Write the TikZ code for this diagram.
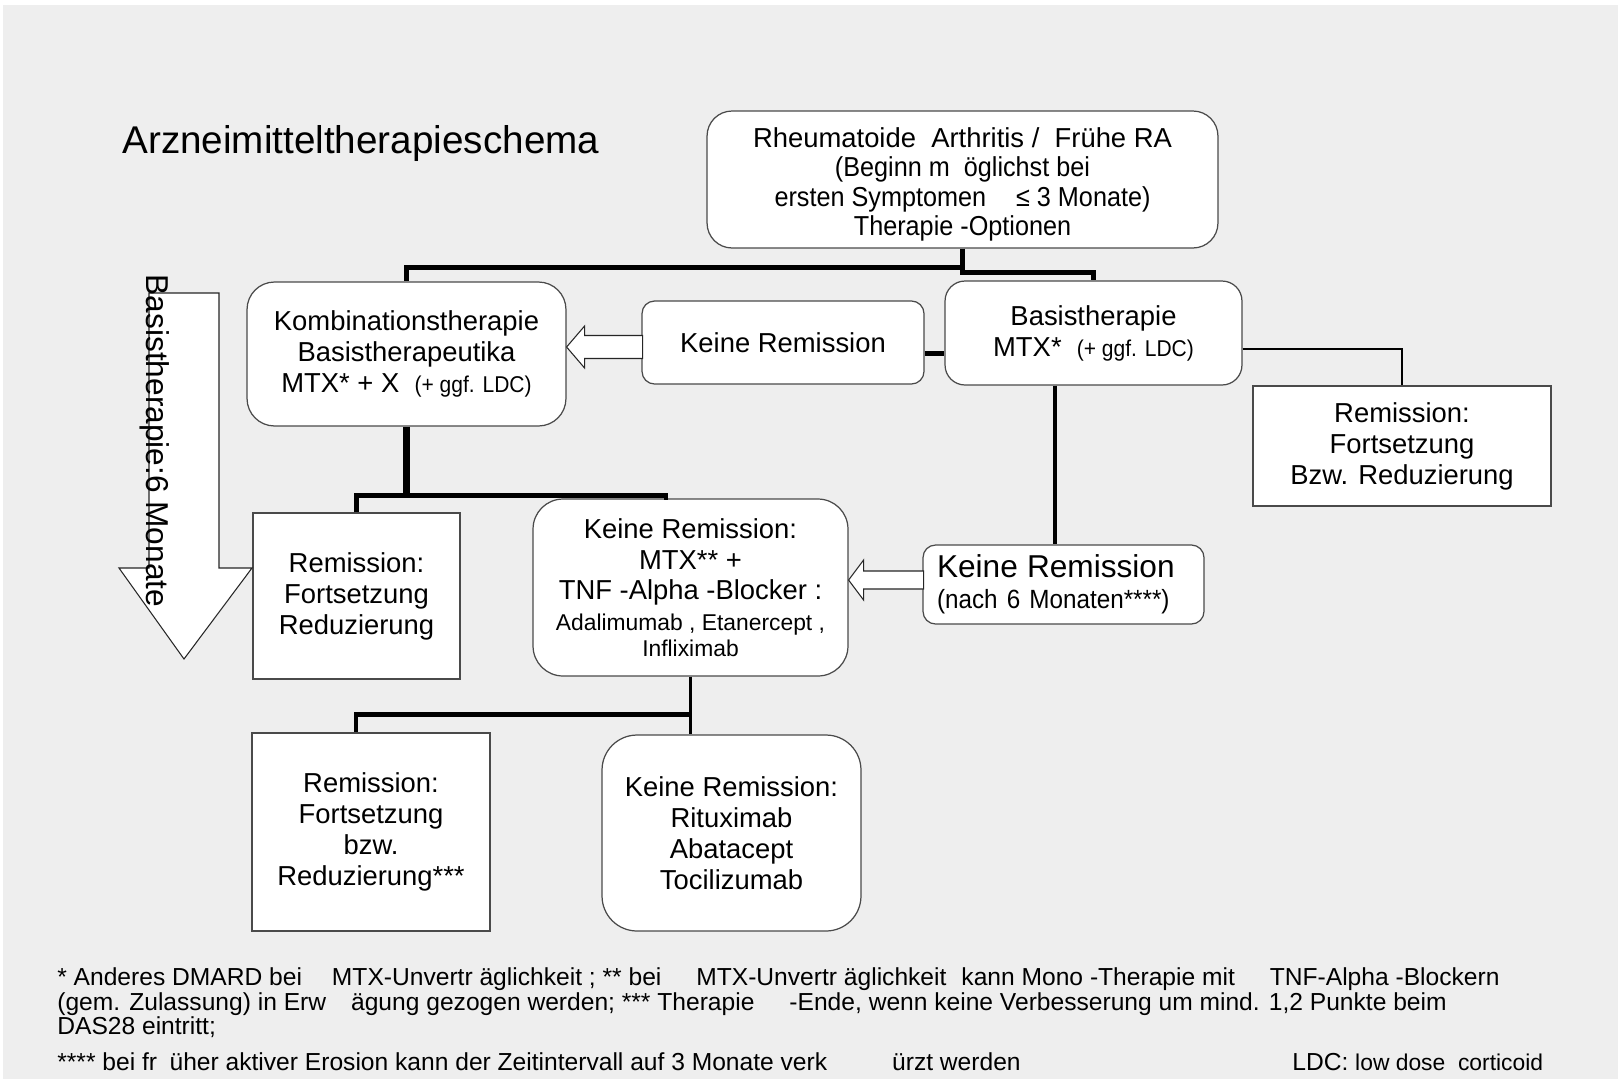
\documentclass[tikz,border=0pt]{standalone}
\usepackage{fontspec}
\setmainfont{Liberation Sans}
\newfontfamily\narrowfont[FakeStretch=0.92]{Liberation Sans}
\usetikzlibrary{calc}
\definecolor{sheetgray}{HTML}{EEEEEE}
\definecolor{boxline}{HTML}{4A4A4A}
\tikzstyle{rbox} = [rectangle, rounded corners=0.5cm, draw=boxline, fill=white, line width=0.7pt, align=center, inner sep=0pt, font=\fontsize{15.6}{17.6}\selectfont]
\tikzstyle{sbox} = [rectangle, draw=boxline, fill=white, line width=0.7pt, align=center, inner sep=0pt, font=\fontsize{15.6}{17.6}\selectfont]
\tikzstyle{link} = [line width=2.8pt]
\tikzstyle{thinlink} = [line width=1.6pt]
\tikzstyle{hollow} = [draw=black!85, fill=white, line width=0.6pt]
\tikzstyle{note} = [anchor=base west, inner sep=0pt, font=\fontsize{14}{15}\selectfont]

\begin{document}
\begin{tikzpicture}[x=0.02cm, y=-0.02cm]
    \useasboundingbox (0,0) rectangle (1618,1079);
    \fill[white] (0,0) rectangle (1618,1079);
    \fill[sheetgray] (3,5) rectangle (1618,1079);

    \node[anchor=west, inner sep=0pt, font=\fontsize{22}{26}\selectfont] (title) at (122,144) {Arzneimitteltherapieschema};

    % boxes
    \node[rbox, minimum width=10.22cm, minimum height=2.74cm, font=\fontsize{15.6}{16.8}\selectfont] (topra) at (962.5,179.5) {\raisebox{0pt}[15pt][0pt]{}\\[-15pt]Rheumatoide\ \ Arthritis /\ \ Frühe RA\\{\narrowfont (Beginn m\ \ öglichst bei}\\{\narrowfont ersten Symptomen\hspace{6mm}≤ 3 Monate)}\\{\narrowfont Therapie -Optionen}};
    \node[rbox, rounded corners=0.55cm, minimum width=6.38cm, minimum height=2.88cm] (kombi) at (406.5,354) {Kombinationstherapie\\Basistherapeutika\\MTX* + X\ \ {\narrowfont\fontsize{13}{17.6}\selectfont (+ ggf. LDC)}};
    \node[rbox, rounded corners=0.25cm, minimum width=5.64cm, minimum height=1.66cm] (keinerem) at (783,342.5) {Keine Remission};
    \node[rbox, rounded corners=0.4cm, minimum width=5.94cm, minimum height=2.08cm] (basis) at (1093.5,333) {Basistherapie\\MTX*\ \ {\narrowfont\fontsize{13}{17.6}\selectfont (+ ggf. LDC)}};
    \node[sbox, minimum width=5.96cm, minimum height=2.4cm] (remright) at (1402,446) {Remission:\\Fortsetzung\\Bzw. Reduzierung};
    \node[rbox, rounded corners=0.25cm, minimum width=5.62cm, minimum height=1.58cm, align=left, text width=5.06cm, inner xsep=0.28cm] (keine6) at (1063.5,584.5) {{\fontsize{18}{20}\selectfont Keine Remission}\\{\narrowfont\fontsize{15}{17}\selectfont (nach 6 Monaten****)}};
    \node[rbox, rounded corners=0.6cm, minimum width=6.3cm, minimum height=3.54cm] (tnf) at (690.5,587.5) {Keine Remission:\\MTX** +\\TNF -Alpha -Blocker :\\{\fontsize{13}{15}\selectfont Adalimumab , Etanercept ,}\\[-3pt]{\fontsize{13}{15}\selectfont Infliximab}};
    \node[sbox, minimum width=4.14cm, minimum height=3.32cm] (remleft) at (356.5,596) {Remission:\\Fortsetzung\\Reduzierung};
    \node[sbox, minimum width=4.76cm, minimum height=3.96cm] (remlow) at (371,832) {Remission:\\Fortsetzung\\bzw.\\Reduzierung***};
    \node[rbox, rounded corners=0.7cm, minimum width=5.18cm, minimum height=3.92cm] (biolog) at (731.5,833) {Keine Remission:\\Rituximab\\Abatacept\\Tocilizumab};

    % connectors
    \draw[link] (topra.south) -- ++(0,19) -| (kombi.north);
    \draw[link] (topra.south) ++(0,19) -- ++(0,5) -| (basis.north);
    \draw[link] (keinerem.east) ++(0,11) coordinate (kr) -- (kr -| basis.west);
    \draw[thinlink] (basis.east) ++(0,16) coordinate (br) -- (br -| remright.north) -- (remright.north);
    \draw[link] (basis.south) ++(-38.5,0) coordinate (bs) -- (bs |- keine6.north);
    \draw[link, line width=4pt] (kombi.south) -- ++(0,69) coordinate (kj);
    \draw[link] (remleft.north) |- ($(kj -| tnf.north)+(-24.5,0)$) -- ++(0,4);
    \draw[thinlink] (tnf.south) -- (tnf.south |- biolog.north);
    \draw[link] (tnf.south) ++(0,38) coordinate (tj) -- ($(tj -| remlow.north)+(-15,0)$) -- ($(remlow.north)+(-15,0)$);

    % hollow arrows
    \draw[hollow] ($(kombi.east)+(0,-7)$) -- ++(18,-21) -- ++(0,9.5) -- ++(58,0) -- ++(0,23) -- ++(-58,0) -- ++(0,9.5) -- cycle;
    \draw[hollow] ($(tnf.east)+(0,-7.5)$) -- ++(15,-20) -- ++(0,11) -- ++(60,0) -- ++(0,18) -- ++(-60,0) -- ++(0,11) -- cycle;
    \draw[hollow] (149,293) -- (219,293) -- (219,568) -- (252,568) -- (184,659) -- (119,568) -- (149,568) -- cycle;
    \node[rotate=-90, inner sep=0pt, font=\fontsize{18}{20}\selectfont] (armlabel) at (155,441) {Basistherapie:6 Monate};

    % footnotes
    \node[note] (fn1) at (57,985) {* Anderes DMARD bei\hspace{6mm}MTX-Unvertr äglichkeit ; ** bei\hspace{7mm}MTX-Unvertr äglichkeit\hspace{3mm}kann Mono -Therapie mit\hspace{7mm}TNF-Alpha -Blockern};
    \node[note] (fn2) at (57,1010) {(gem. Zulassung) in Erw\hspace{5mm}ägung gezogen werden; *** Therapie\hspace{7mm}-Ende, wenn keine Verbesserung um mind. 1,2 Punkte beim};
    \node[note] (fn3) at (57,1034) {DAS28 eintritt;};
    \node[note] (fn4) at (57,1070) {**** bei fr\hspace{2.5mm}üher aktiver Erosion kann der Zeitintervall auf 3 Monate verk\hspace{13mm}ürzt werden};
    \node[note] (ldc) at (1292,1070) {{\fontsize{14}{16}\selectfont LDC:} {\fontsize{13}{15}\selectfont low dose\ \ corticoid}};
\end{tikzpicture}
\end{document}
